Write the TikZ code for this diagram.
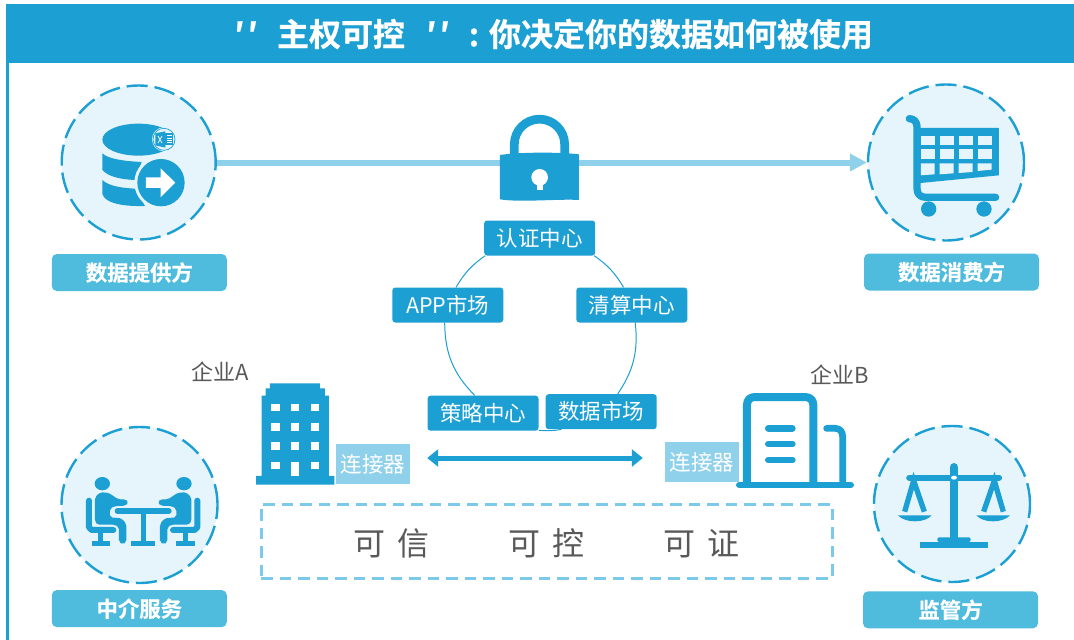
\documentclass[tikz,border=0pt]{standalone}
\usepackage{fontspec}
\setmainfont{Noto Sans CJK SC}[BoldFont={Noto Sans CJK SC Bold},BoldFeatures={FakeBold=0.6}]
\usetikzlibrary{arrows.meta}
\definecolor{mainblue}{HTML}{1C9FD3}
\definecolor{disc}{HTML}{E6F4FB}
\definecolor{tagblue}{HTML}{4FBBDD}
\definecolor{paleblue}{HTML}{8FD0EB}
\definecolor{boxdash}{HTML}{7CCAEB}
\definecolor{greytext}{HTML}{595959}
\tikzset{
  x=1pt,y=-1pt,
  rolering/.style={circle,draw=mainblue,fill=disc,line width=2.4pt,dash pattern=on 21pt off 7pt,minimum size=#1,inner sep=0pt},
  tag/.style={rectangle,rounded corners=5pt,fill=tagblue,text=white,font=\fontsize{21.4}{21}\selectfont\bfseries,minimum width=175pt,minimum height=37pt,inner sep=0pt},
  hub/.style={rectangle,rounded corners=3pt,fill=mainblue,text=white,font=\fontsize{21.5}{22}\selectfont,minimum width=111pt,minimum height=35pt,inner sep=0pt},
  conn/.style={rectangle,fill=paleblue,text=white,font=\fontsize{21.5}{22}\selectfont,minimum width=74pt,minimum height=40pt,inner sep=0pt},
  corp/.style={text=greytext,font=\fontsize{22}{22}\selectfont,inner sep=0pt},
  ring/.style={draw=mainblue,line width=1pt},
  icoline/.style={draw=mainblue,line cap=round,line join=round},
}
\newcommand{\sitter}{%
  \fill[mainblue] (187,221) ellipse (23 and 20);
  \draw[icoline,line width=6pt] (147,272) -- (147,352) -- (155,360) -- (220,360);
  \fill[mainblue] (175,365) rectangle (190,395);
  \fill[mainblue] (155,392) rectangle (210,408);
  \fill[mainblue,rounded corners=2pt] (165,262) -- (180,247) -- (205,248) -- (235,268) -- (258,268) -- (266,277) -- (258,287) -- (225,288) -- (210,296) -- (210,322) -- (245,325) -- (259,342) -- (259,396) -- (248,404) -- (237,396) -- (237,352) -- (225,344) -- (172,344) -- (165,335) -- cycle;
}
\newcommand{\balance}{%
  \draw[icoline,line width=5.3pt,line cap=butt,line join=miter] (164,305) -- (191,212) -- (223,305);
  \fill[mainblue] (144,316) .. controls (165,340) and (225,340) .. (245,316) -- cycle;
}
\begin{document}
\begin{tikzpicture}
\useasboundingbox (0,0) rectangle (1074,640);
\fill[white] (0,0) rectangle (1074,640);
% frame and title
\fill[mainblue] (6.3,4) rectangle (1074,62.7);
\fill[mainblue] (6.3,4) rectangle (9.3,640);
\node[text=white,font=\fontsize{32}{32}\selectfont\bfseries,inner sep=0pt] (title) at (554,34) {\makebox[22pt][c]{′\hspace{3pt}′}\hspace{20pt}主权可控\hspace{22pt}\makebox[22pt][c]{′\hspace{3pt}′}\hspace{10pt}\makebox[30pt][c]{:}你决定你的数据如何被使用};
% role discs
\node[rolering=154pt] (provider) at (138.7,162.5) {};
\node[rolering=156pt] (consumer) at (946,162.5) {};
\node[rolering=156pt] (broker) at (139.5,505) {};
\node[rolering=156pt] (regulator) at (952,504) {};
\node[tag] (providertag) at (139.3,272.5) {数据提供方};
\node[tag] (consumertag) at (951.5,272) {数据消费方};
\node[tag] (brokertag) at (139.3,608.6) {中介服务};
\node[tag] (regulatortag) at (950.5,609.8) {监管方};
% main flow
\draw[draw=paleblue,line width=6pt,-{Triangle[width=17pt,length=17pt]}] (provider) -- (consumer);
% lock
\begin{scope}[shift={(380,100)},scale=0.3333]
  \draw[mainblue,line width=8.7pt] (403,170) -- (403,133) arc (180:360:75.5) -- (554,170);
  \fill[mainblue] (360,165) .. controls (420,156) and (540,156) .. (597,163) -- (597,300) .. controls (540,296) and (420,308) .. (360,298) -- cycle;
  \fill[white] (479,232) circle (25);
  \fill[white] (470,245) rectangle (488,270);
\end{scope}
% hub
\node[hub] (auth) at (539.7,238) {认证中心};
\node[hub] (app) at (447.8,305) {APP市场};
\node[hub] (clear) at (631.8,305) {清算中心};
\node[hub] (policy) at (483,413.2) {策略中心};
\node[hub] (market) at (601.2,411.7) {数据市场};
\draw[ring] (auth.-18) to[bend left=12] (clear.115);
\draw[ring] (clear.-79) to[bend left=20] (market.47);
\draw[ring] (market.204) to[bend left=7] (policy.-17.5);
\draw[ring] (policy.115) to[bend left=22] (app.-100);
\draw[ring] (app.65) to[bend left=12] (auth.198);
% provider icon
\begin{scope}[shift={(40,70)},scale=0.3333]
  \fill[mainblue] (295,209) ellipse (108 and 48);
  \fill[mainblue] (187,250) .. controls (205,268) and (260,274) .. (305,276) -- (285,330) .. controls (240,328) and (205,320) .. (187,300) -- cycle;
  \fill[mainblue] (187,330) .. controls (205,348) and (245,354) .. (285,356) -- (315,408) .. controls (250,410) and (195,400) .. (187,372) -- cycle;
  \fill[disc] (363,338) circle (80);
  \fill[mainblue] (363,338) circle (71);
  \fill[white] (318,322) -- (362,322) -- (362,295) -- (406,338) -- (362,382) -- (362,354) -- (318,354) -- cycle;
  \fill[disc] (372,208) circle (36);
  \draw[mainblue,line width=0.7pt] (372,208) circle (33);
  \fill[mainblue] (346,190) -- (376,184) -- (376,233) -- (346,226) -- cycle;
  \fill[mainblue] (376,190) rectangle (399,226);
  \draw[white,line width=0.7pt] (354,198) -- (366,219) (366,198) -- (354,219);
  \draw[white,line width=0.5pt] (380,197) -- (396,197) (380,204) -- (396,204) (380,211) -- (396,211) (380,218) -- (396,218);
\end{scope}
% cart icon
\begin{scope}[shift={(850,70)},scale=0.3333]
  \fill[mainblue] (202,174) -- (447,174) -- (447,316) -- (202,340) -- cycle;
  \foreach \a in {212,269,326,383}{
    \fill[disc] (\a,197) rectangle ++(42,27);
    \fill[disc] (\a,238) rectangle ++(42,28);
  }
  \fill[disc] (212,280) -- (254,280) -- (254,313) -- (212,316) -- cycle;
  \fill[disc] (269,280) -- (311,280) -- (311,310) -- (269,313) -- cycle;
  \fill[disc] (326,280) -- (368,280) -- (368,306) -- (326,309) -- cycle;
  \fill[disc] (383,280) -- (425,280) -- (425,299) -- (383,303) -- cycle;
  \draw[icoline,line width=7.3pt] (178,146) .. controls (192,146) and (201,156) .. (201,170) -- (201,355) .. controls (201,372) and (210,382) .. (228,382) -- (437,382);
  \fill[mainblue] (236,417) circle (23);
  \fill[mainblue] (402,417) circle (23);
\end{scope}
% meeting icon
\begin{scope}[shift={(40,410)},scale=0.3333]
  \sitter
  \begin{scope}[shift={(619,0)},xscale=-1]\sitter\end{scope}
  \draw[icoline,line width=5.3pt] (232,303) -- (387,303);
  \fill[mainblue] (302,303) rectangle (318,395);
  \fill[mainblue] (273,392) rectangle (345,408);
\end{scope}
% scales icon
\begin{scope}[shift={(850,410)},scale=0.3333]
  \balance
  \begin{scope}[shift={(624,0)},xscale=-1]\balance\end{scope}
  \draw[icoline,line width=6.3pt] (178,203) -- (447,203);
  \draw[icoline,line width=8.7pt] (312,172) -- (312,390);
  \fill[white] (312,203) ellipse (9 and 6);
  \fill[mainblue,rounded corners=1.5pt] (262,396) -- (262,382) -- (362,382) -- (362,396) -- cycle;
  \fill[mainblue] (211,395) rectangle (413,413);
\end{scope}
% building A
\begin{scope}[shift={(240,350)},scale=0.3333]
  \fill[mainblue] (90,100) -- (240,100) -- (240,115) -- (255,115) -- (255,137) -- (267,137) -- (267,378) -- (283,378) -- (283,404) -- (48,404) -- (48,378) -- (65,378) -- (65,137) -- (77,137) -- (77,115) -- (90,115) -- cycle;
  \foreach \a in {94,153,212}{\foreach \b in {162,220,277}{\fill[white] (\a,\b) rectangle ++(25,22);}}
  \fill[white] (94,335) rectangle ++(25,22);
  \fill[white] (212,335) rectangle ++(25,22);
  \fill[white] (153,335) rectangle (178,378);
\end{scope}
% building B
\begin{scope}[shift={(660,350)},scale=0.3333]
  \draw[icoline,line width=8pt,line cap=butt] (261,400) -- (261,165) .. controls (261,150) and (270,141) .. (285,141) -- (435,141) .. controls (450,141) and (460,150) .. (460,165) -- (460,400);
  \draw[icoline,line width=6.7pt] (238,405) -- (572,405);
  \draw[icoline,line width=6.7pt] (325,235) -- (397,235) (325,282) -- (397,282) (325,330) -- (397,330);
  \draw[icoline,line width=6.7pt] (500,235) -- (525,235) .. controls (540,235) and (548,245) .. (548,260) -- (548,400);
\end{scope}
% enterprises
\node[corp] (corpa) at (220,372) {企业A};
\node[corp] (corpb) at (840,375) {企业B};
\node[conn] (conna) at (373,464) {连接器};
\node[conn] (connb) at (702,462) {连接器};
\draw[draw=mainblue,line width=5pt,{Triangle[width=17pt,length=11pt]}-{Triangle[width=17pt,length=11pt]},shorten <=17pt,shorten >=22pt] ([yshift=6pt]conna.east) -- ([yshift=4pt]connb.west);
% trust box
\node[draw=boxdash,line width=3pt,dash pattern=on 11.5pt off 7pt,minimum width=571pt,minimum height=74pt,inner sep=0pt,text=greytext,font=\fontsize{32}{32}\selectfont] (trust) at (546.5,541) {\raisebox{-2.5pt}[\height][\depth]{可\hspace{12pt}信\hspace{79pt}可\hspace{12pt}控\hspace{79pt}可\hspace{12pt}证}};
\end{tikzpicture}
\end{document}
